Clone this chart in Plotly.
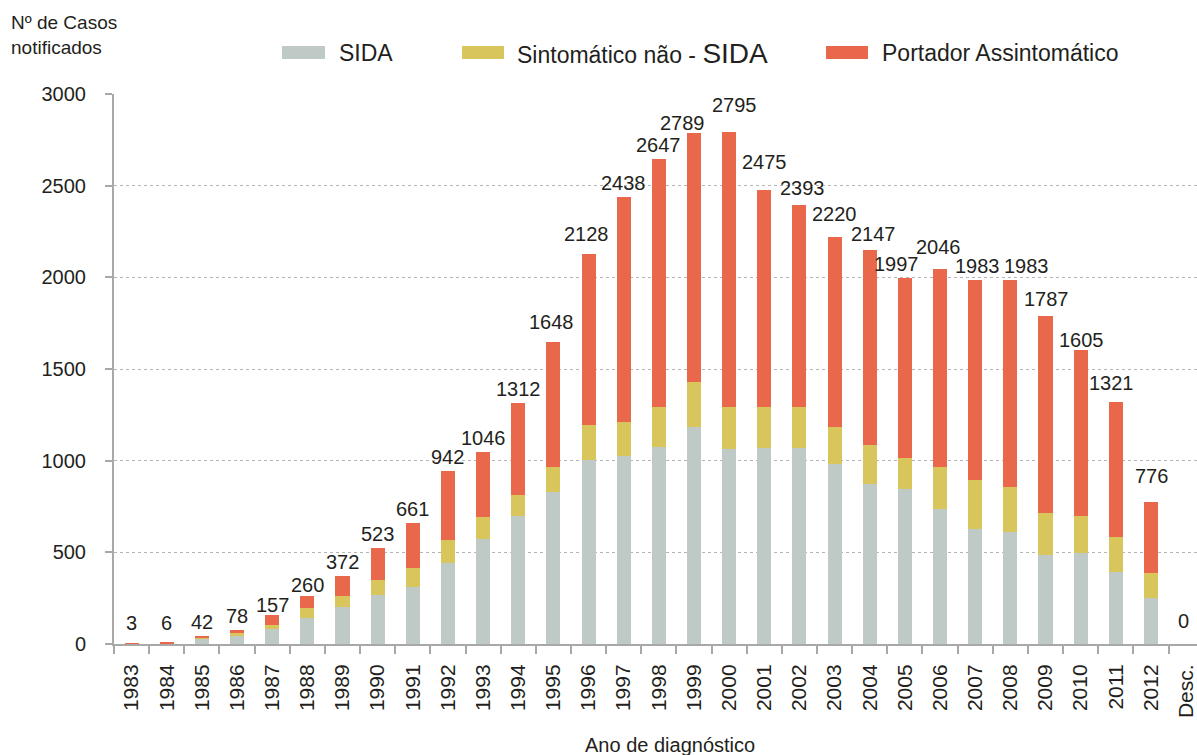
import plotly.graph_objects as go

# ---- data -------------------------------------------------------------
years = ["1983", "1984", "1985", "1986", "1987", "1988", "1989", "1990", "1991",
         "1992", "1993", "1994", "1995", "1996", "1997", "1998", "1999", "2000",
         "2001", "2002", "2003", "2004", "2005", "2006", "2007", "2008", "2009",
         "2010", "2011", "2012", "Desc."]
sida = [0, 0, 30, 44, 84, 140, 202, 266, 310, 441, 572, 699, 830, 1002, 1025,
        1076, 1185, 1064, 1070, 1070, 982, 873, 843, 734, 630, 610, 484, 497,
        393, 249, 0]
sintomatico = [0, 0, 6, 14, 18, 55, 62, 84, 104, 127, 122, 115, 133, 193, 188,
               215, 245, 231, 225, 221, 201, 215, 171, 229, 262, 244, 230, 202,
               192, 139, 0]
portador = [3, 6, 6, 20, 55, 65, 108, 173, 247, 374, 352, 498, 685, 933, 1225,
            1356, 1359, 1500, 1180, 1102, 1037, 1059, 983, 1083, 1091, 1129,
            1073, 906, 736, 388, 0]
totais = [3, 6, 42, 78, 157, 260, 372, 523, 661, 942, 1046, 1312, 1648, 2128,
          2438, 2647, 2789, 2795, 2475, 2393, 2220, 2147, 1997, 2046, 1983, 1983,
          1787, 1605, 1321, 776, 0]
series_names = ["SIDA", "Sintomático não - SIDA", "Portador Assintomático"]
y_ticks = [0, 500, 1000, 1500, 2000, 2500, 3000]

# ---- style ------------------------------------------------------------
colors = ["#BFCAC6", "#D8C55B", "#E9674A"]
W, H = 1197, 755
L, R, T, B = 114, 0, 94, 111
pw, ph = W - L - R, H - T - B
FONT = "Liberation Sans, Arial, Helvetica, sans-serif"
NARROW = "Liberation Sans Narrow, Arial Narrow, Liberation Sans, Arial, sans-serif"
TXT = "#231F20"
AX = "#A8A8A8"

# label placement tweaks (pixels: dx, dy) to mimic the reference layout
label_nudge = {"1983": (0, 6), "1984": (0, 6), "1987": (0, -4), "1988": (0, -3),
               "1995": (-2, 6), "1996": (-2, 6), "1999": (-11, -4),
               "2000": (5, 13), "2001": (0, 14), "2002": (3, 3), "2003": (0, 9),
               "2004": (4, 2), "2005": (-8, 0), "2006": (-2, 8), "2007": (2, 0),
               "2008": (16, 0), "2009": (1, 3), "2010": (1, -4), "2011": (-4, 5),
               "2012": (1, 12), "Desc.": (-3, 9)}


def px(x):
    return (x - L) / pw


def py(y):
    return (H - B - y) / ph


fig = go.Figure()
for name, vals, col in zip(series_names, [sida, sintomatico, portador], colors):
    fig.add_trace(go.Bar(x=years, y=vals, name=name, marker_color=col,
                         marker_line_width=0, showlegend=False))

# value labels above bars (x given as category index)
for i, (cat, tot) in enumerate(zip(years, totais)):
    dx, dy = label_nudge.get(cat, (0, 0))
    fig.add_annotation(x=i, y=tot, xref="x", yref="y", text=str(tot),
                       showarrow=False, xanchor="center", yanchor="bottom",
                       yshift=1 + dy, xshift=dx,
                       font=dict(family=FONT, size=20, color=TXT))

# legend (drawn manually for wide swatches)
legend_items = [(282, 325, 337, series_names[0], colors[0]),
                (462, 504, 515, "Sintomático não - <span style='font-size:28px'>SIDA</span>", colors[1]),
                (826, 868, 880, series_names[2], colors[2])]
for x0, x1, tx, label, col in legend_items:
    fig.add_shape(type="rect", xref="paper", yref="paper",
                  x0=px(x0), x1=px(x1), y0=py(59), y1=py(46),
                  fillcolor=col, line_width=0)
    fig.add_annotation(xref="paper", yref="paper", x=px(tx), y=py(53),
                       xanchor="left", yanchor="middle", showarrow=False,
                       text=label, font=dict(family=FONT, size=23, color=TXT))

# axis titles
fig.add_annotation(xref="paper", yref="paper", x=px(9), y=py(10),
                   xanchor="left", yanchor="top", align="left", showarrow=False,
                   text="Nº de Casos<br>notificados",
                   font=dict(family=FONT, size=19, color=TXT))
fig.add_annotation(xref="paper", yref="paper", x=px(670), y=py(745),
                   xanchor="center", yanchor="middle", showarrow=False,
                   text="Ano de diagnóstico",
                   font=dict(family=FONT, size=20, color=TXT))

fig.update_layout(
    width=W, height=H,
    margin=dict(l=L, r=R, t=T, b=B, autoexpand=False),
    barmode="stack", bargap=0.6,
    plot_bgcolor="white", paper_bgcolor="white",
    showlegend=False,
    xaxis=dict(type="category", range=[-0.5, -0.5 + pw / 35.15],
               tickson="boundaries", ticks="outside", ticklen=8, tickwidth=2,
               tickcolor=AX, showline=True, linecolor=AX, linewidth=2,
               showgrid=False, tickangle=-90, ticklabelstandoff=10,
               tickfont=dict(family=NARROW, size=21, color=TXT)),
    yaxis=dict(range=[0, 3000], tickvals=y_ticks, ticks="outside", ticklen=7,
               tickwidth=2, tickcolor=AX, showline=True, linecolor=AX,
               linewidth=2, showgrid=True, gridcolor="#B5B5B5", griddash="dot",
               gridwidth=1, zeroline=False, ticklabelstandoff=15,
               tickfont=dict(family=FONT, size=20, color=TXT)),
)

fig.write_html("out.html", config={"displayModeBar": False},
               post_script="document.body.style.margin='0';"
                           "document.body.style.overflow='hidden';")
